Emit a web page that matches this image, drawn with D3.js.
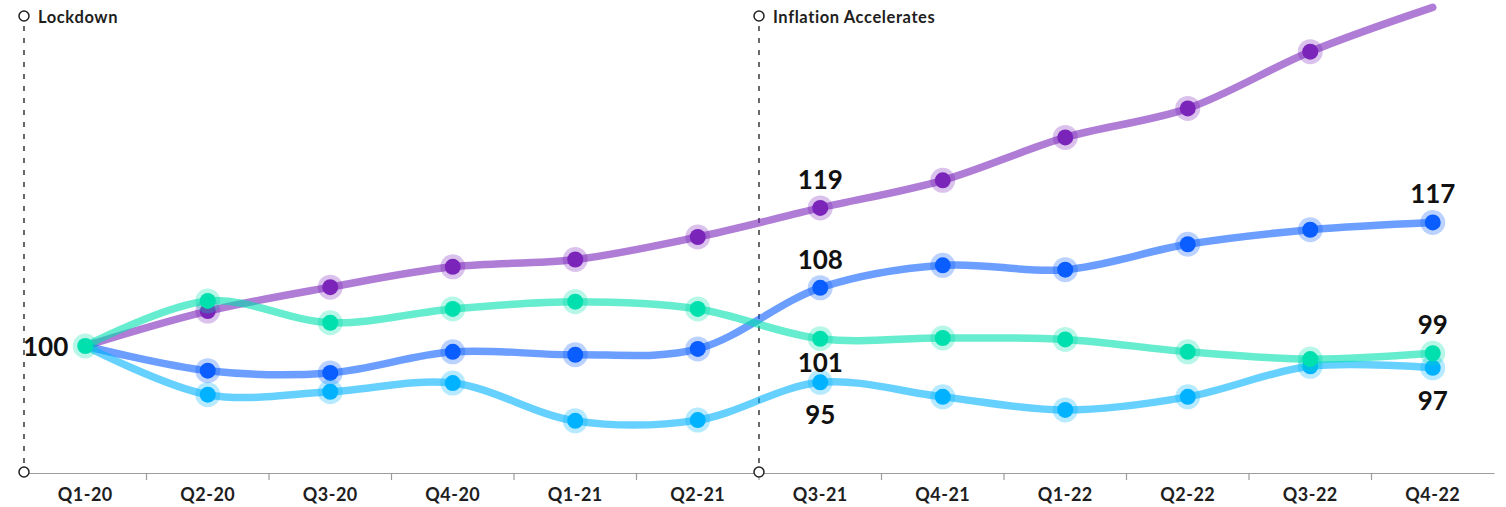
<!DOCTYPE html>
<html>
<head>
<meta charset="utf-8">
<script src="https://cdn.jsdelivr.net/npm/d3@7"></script>
<style>
  html, body { margin: 0; padding: 0; background: #ffffff; }
  svg { display: block; font-family: Lato, "Open Sans", sans-serif; }
</style>
</head>
<body>
<svg id="chart" width="1506" height="507"></svg>
<script>
// Quarter labels along the x axis
const quarters = ["Q1-20", "Q2-20", "Q3-20", "Q4-20", "Q1-21", "Q2-21",
                  "Q3-21", "Q4-21", "Q1-22", "Q2-22", "Q3-22", "Q4-22"];

// Indexed values (Q1-20 = 100)
const purpleValues    = [100, 104.8, 108.1, 110.9, 111.9, 115.0, 119.0, 122.8, 128.7, 132.7, 140.5, 146.6];
const blueValues      = [100, 96.6, 96.3, 99.2, 98.8, 99.6, 108.0, 111.1, 110.5, 114.0, 116.0, 117.0];
const lightBlueValues = [100, 93.3, 93.7, 94.9, 89.7, 89.8, 95.0, 93.0, 91.2, 93.0, 97.2, 97.0];
const tealValues      = [100, 106.2, 103.2, 105.1, 106.1, 105.1, 101.0, 101.1, 100.9, 99.2, 98.2, 99.0];

// Event markers
const eventNames    = ["Lockdown", "Inflation Accelerates"];
const eventQuarters = ["Q1-20", "Q3-21"];

// Value labels: series, quarter, placement
const labelSeries   = ["teal", "purple", "blue", "teal", "lightBlue", "blue", "teal", "lightBlue"];
const labelQuarters = ["Q1-20", "Q3-21", "Q3-21", "Q3-21", "Q3-21", "Q4-22", "Q4-22", "Q4-22"];
const labelPlaces   = ["left", "above", "above", "under", "below", "above", "above", "below"];

const series = [
  { key: "purple",    values: purpleValues,    color: "#7a24ba", firstMarker: false, lastMarker: false },
  { key: "blue",      values: blueValues,      color: "#0a5eff", firstMarker: false, lastMarker: true },
  { key: "lightBlue", values: lightBlueValues, color: "#00b2ff", firstMarker: false, lastMarker: true },
  { key: "teal",      values: tealValues,      color: "#00dfae", firstMarker: true,  lastMarker: true }
];
const byKey = Object.fromEntries(series.map(s => [s.key, s]));

const svg = d3.select("#chart");
const axisY = 473;

const x = d3.scaleBand().domain(quarters).range([24, 1494]).padding(0);
const cx = q => x(q) + x.bandwidth() / 2;
const y = d3.scaleLinear().domain([85, 145]).range([455, 19]);

// x axis: labels centred in each band, ticks on band boundaries
const axis = svg.append("g")
  .attr("transform", `translate(0,${axisY})`)
  .call(d3.axisBottom(x).tickSize(0).tickSizeOuter(0).tickPadding(15));
axis.select(".domain").attr("stroke", "#9c9c9c").attr("stroke-width", 1.2);
axis.selectAll(".tick text")
  .attr("fill", "#1e1e1e")
  .attr("font-size", 18)
  .attr("font-weight", 700)
  .attr("letter-spacing", 0.5)
  .attr("font-family", "Lato, sans-serif");

const boundaries = quarters.slice(1).map(q => x(q));
svg.append("g").selectAll("line")
  .data(boundaries)
  .join("line")
  .attr("x1", d => d).attr("x2", d => d)
  .attr("y1", axisY).attr("y2", axisY + 7)
  .attr("stroke", "#9c9c9c").attr("stroke-width", 1.2);

// Event lines
const events = svg.append("g");
eventNames.forEach((name, i) => {
  const ex = x(eventQuarters[i]);
  events.append("line")
    .attr("x1", ex).attr("x2", ex)
    .attr("y1", 26).attr("y2", axisY - 6)
    .attr("stroke", "#2a2a2a").attr("stroke-width", 1.4)
    .attr("stroke-dasharray", "5,7");
  events.append("circle")
    .attr("cx", ex).attr("cy", 16).attr("r", 5)
    .attr("fill", "#fff").attr("stroke", "#222").attr("stroke-width", 1.5);
  events.append("circle")
    .attr("cx", ex).attr("cy", axisY - 1).attr("r", 5)
    .attr("fill", "#fff").attr("stroke", "#222").attr("stroke-width", 1.5);
  events.append("text")
    .attr("x", ex + 14).attr("y", 23)
    .attr("font-size", 16.5).attr("font-weight", 700)
    .attr("letter-spacing", 0.6)
    .attr("fill", "#1e1e1e")
    .text(name);
});

// Lines
const line = d3.line()
  .x((d, i) => cx(quarters[i]))
  .y(d => y(d))
  .curve(d3.curveCatmullRom.alpha(0.5));

const seriesG = svg.append("g").selectAll("g")
  .data(series)
  .join("g");

seriesG.append("path")
  .attr("d", d => line(d.values))
  .attr("fill", "none")
  .attr("stroke", d => d.color)
  .attr("stroke-opacity", 0.6)
  .attr("stroke-width", 7.5)
  .attr("stroke-linecap", "round")
  .attr("stroke-linejoin", "round");

// Markers: soft halo plus solid dot
const markers = seriesG.selectAll("g.marker")
  .data(s => s.values
    .map((v, i) => ({ v, i, color: s.color }))
    .filter(p => (s.firstMarker || p.i > 0) && (s.lastMarker || p.i < s.values.length - 1)))
  .join("g")
  .attr("class", "marker")
  .attr("transform", p => `translate(${cx(quarters[p.i])},${y(p.v)})`);
markers.append("circle").attr("r", 12.5).attr("fill", p => p.color).attr("fill-opacity", 0.28);
markers.append("circle").attr("r", 8).attr("fill", p => p.color);

// Value labels
const labelG = svg.append("g");
labelSeries.forEach((key, i) => {
  const s = byKey[key];
  const qi = quarters.indexOf(labelQuarters[i]);
  const v = s.values[qi];
  const px = cx(labelQuarters[i]);
  const py = y(v);
  const place = labelPlaces[i];
  let tx = px, ty = py, anchor = "middle";
  if (place === "left") { tx = px - 17; ty = py + 10; anchor = "end"; }
  else if (place === "above") { ty = py - 19; }
  else if (place === "under") { ty = py + 33; }
  else { ty = py + 42; }
  labelG.append("text")
    .attr("x", tx).attr("y", ty)
    .attr("text-anchor", anchor)
    .attr("font-size", 26).attr("font-weight", 700)
    .attr("fill", "#111")
    .text(d3.format("d")(Math.round(v)));
});
</script>
</body>
</html>
